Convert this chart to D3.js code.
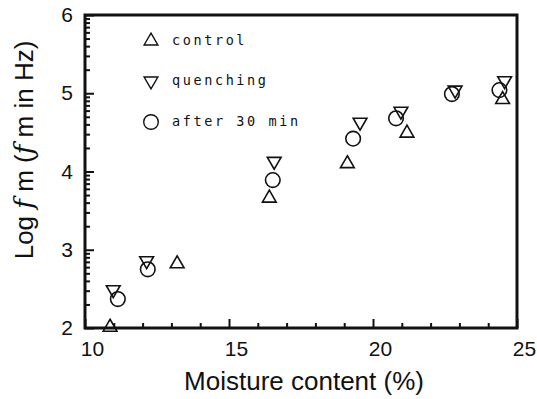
<!DOCTYPE html>
<meta charset="utf-8">
<style>
  body, html { margin: 0; padding: 0; background: #fff; }
  text { font-family: "Liberation Sans", Arial, sans-serif; fill: #111; }
  .tick line { stroke: #111; stroke-width: 2; }
  .legend text { font-family: "DejaVu Sans Mono", monospace; font-size: 13.5px; letter-spacing: 2.6px; }
</style>
<body>
<svg width="537" height="399"></svg>
<script src="https://cdn.jsdelivr.net/npm/d3@7"></script>
<script>
// moisture content (%) and log fm values
var controlX = [10.87, 13.2, 16.4, 19.11, 21.18, 24.5];
var controlY = [2.01, 2.82, 3.66, 4.10, 4.49, 4.92];

var quenchX = [10.98, 12.14, 16.57, 19.55, 20.97, 22.85, 24.57];
var quenchY = [2.49, 2.86, 4.13, 4.63, 4.77, 5.04, 5.16];

var afterX = [11.14, 12.18, 16.52, 19.31, 20.8, 22.74, 24.39];
var afterY = [2.37, 2.75, 3.89, 4.42, 4.68, 4.99, 5.04];

var xTicks = [10, 15, 20, 25];
var xMinor = [11, 12, 13, 14, 16, 17, 18, 19, 21, 22, 23, 24];
var yTicks = [2, 3, 4, 5, 6];
var legendLabels = ["control", "quenching", "after 30 min"];

var svg = d3.select("svg");

var x = d3.scaleLinear().domain([10, 25]).range([85, 517]);
var y = d3.scaleLinear().domain([2, 6]).range([328, 15]);

// log-style minor ticks inside each unit of the y axis
var yMinor = [];
yTicks.slice(0, -1).forEach(function(d) {
  for (var k = 2; k < 10; k++) yMinor.push(d + Math.log10(k));
});

// minor ticks
svg.append("g")
  .attr("transform", "translate(0,328)")
  .call(d3.axisBottom(x).tickValues(xMinor).tickSizeInner(-5).tickSizeOuter(0).tickFormat(""))
  .call(function(g) { g.select(".domain").remove(); });

svg.append("g")
  .attr("transform", "translate(85,0)")
  .call(d3.axisLeft(y).tickValues(yMinor).tickSizeInner(-5).tickSizeOuter(0).tickFormat(""))
  .call(function(g) { g.select(".domain").remove(); });

// major ticks + labels
var xAxis = svg.append("g")
  .attr("transform", "translate(0,328)")
  .call(d3.axisBottom(x).tickValues(xTicks).tickSizeInner(-9).tickSizeOuter(0).tickPadding(13).tickFormat(d3.format("d")))
  .call(function(g) { g.select(".domain").remove(); });
xAxis.selectAll("text").attr("font-size", 21).attr("dx", 7).style("font-family", "Liberation Sans, Arial").style("fill", "#111");

var yAxis = svg.append("g")
  .attr("transform", "translate(85,0)")
  .call(d3.axisLeft(y).tickValues(yTicks).tickSizeInner(-9).tickSizeOuter(0).tickPadding(12).tickFormat(d3.format("d")))
  .call(function(g) { g.select(".domain").remove(); });
yAxis.selectAll("text").attr("font-size", 21).style("font-family", "Liberation Sans, Arial").style("fill", "#111");

// frame
svg.append("rect")
  .attr("x", x(10)).attr("y", y(6))
  .attr("width", x(25) - x(10)).attr("height", y(2) - y(6))
  .attr("fill", "none").attr("stroke", "#111").attr("stroke-width", 3);

// markers
var triUp = d3.symbol().type(d3.symbolTriangle).size(82);
var circ = d3.symbol().type(d3.symbolCircle).size(Math.PI * 7.3 * 7.3);

function drawSeries(xs, ys, path, rot) {
  svg.append("g").selectAll("path")
    .data(xs)
    .enter().append("path")
    .attr("d", path)
    .attr("transform", function(d, i) {
      return "translate(" + x(d) + "," + y(ys[i]) + ")" + (rot ? " rotate(180)" : "");
    })
    .attr("fill", "none")
    .attr("stroke", "#111")
    .attr("stroke-width", 1.6);
}
drawSeries(afterX, afterY, circ(), false);
drawSeries(quenchX, quenchY, triUp(), true);
drawSeries(controlX, controlY, triUp(), false);

// legend
var legend = svg.append("g").attr("class", "legend");
var legendY = [41, 81, 122];
legendLabels.forEach(function(lab, i) {
  legend.append("path")
    .attr("d", i == 2 ? circ() : triUp())
    .attr("transform", "translate(151," + legendY[i] + ")" + (i == 1 ? " rotate(180)" : ""))
    .attr("fill", "none").attr("stroke", "#111").attr("stroke-width", 1.4);
  legend.append("text")
    .attr("x", 172).attr("y", legendY[i] + 4)
    .text(lab);
});

// axis titles
svg.append("text")
  .attr("x", 304).attr("y", 390)
  .attr("text-anchor", "middle")
  .attr("font-size", 26)
  .text("Moisture content (%)");

var yt = svg.append("text")
  .attr("transform", "translate(33,150) rotate(-90)")
  .attr("text-anchor", "middle")
  .attr("font-size", 26);
yt.append("tspan").text("Log ");
yt.append("tspan").attr("font-style", "italic").attr("font-family", "DejaVu Serif").text("f");
yt.append("tspan").text(" m (");
yt.append("tspan").attr("font-style", "italic").attr("font-family", "DejaVu Serif").text("f");
yt.append("tspan").text(" m in Hz)");
</script>
</body>
